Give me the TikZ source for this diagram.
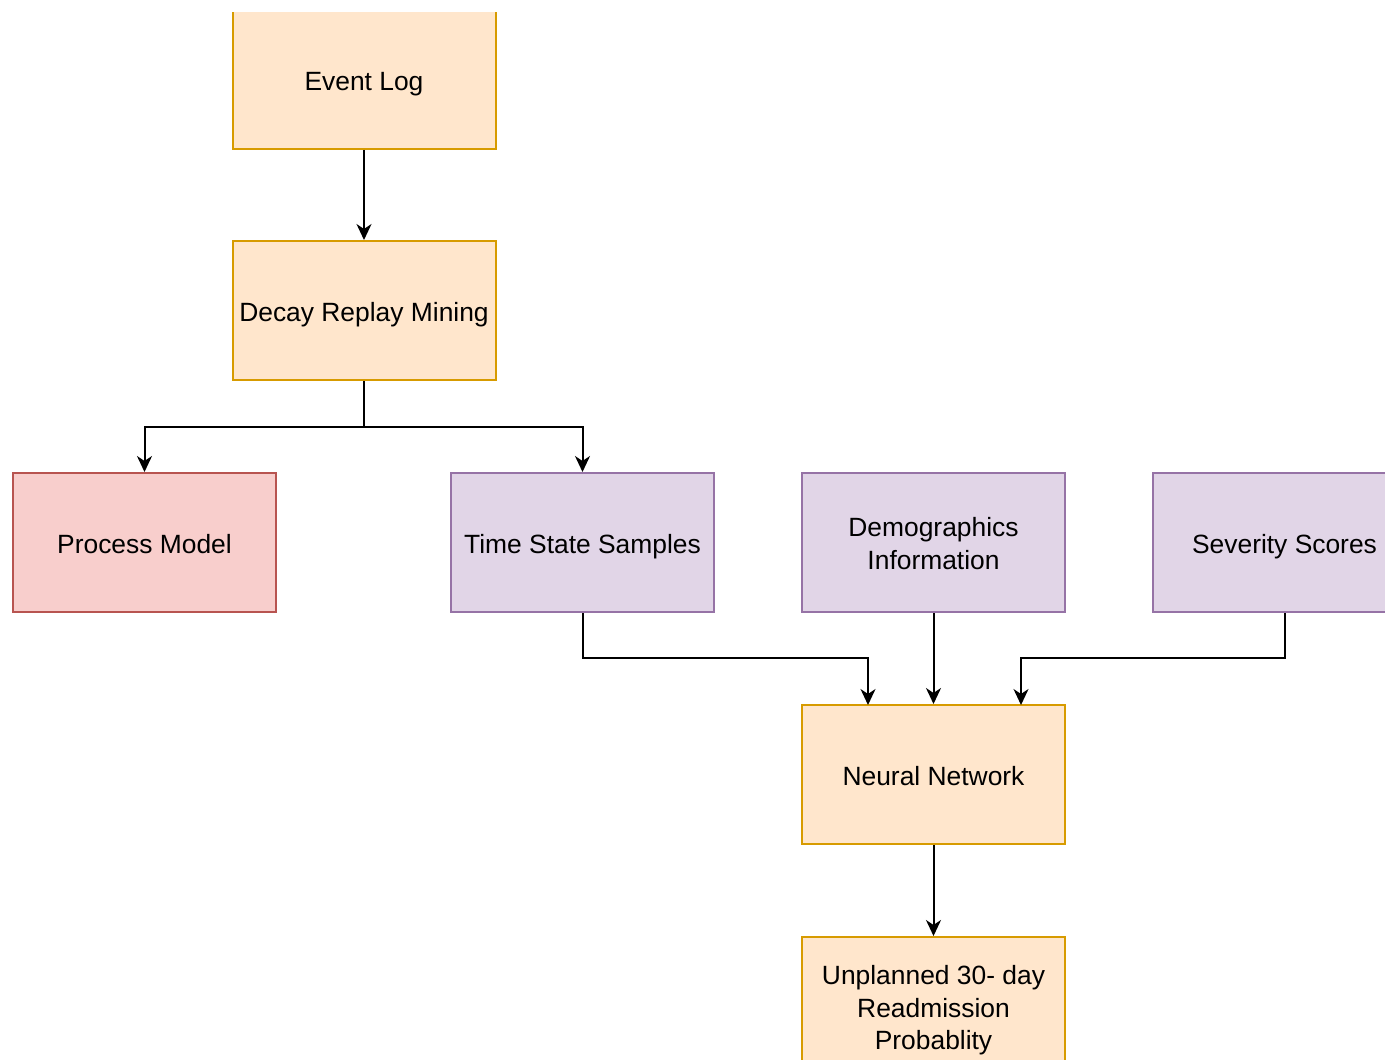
\documentclass[tikz,border=0pt]{standalone}
\usepackage{fontspec}
\setmainfont{Liberation Sans}
\usetikzlibrary{arrows.meta}
\definecolor{orfill}{HTML}{FFE6CC}
\definecolor{ordraw}{HTML}{D79B00}
\definecolor{rdfill}{HTML}{F8CECC}
\definecolor{rddraw}{HTML}{B85450}
\definecolor{pufill}{HTML}{E1D5E7}
\definecolor{pudraw}{HTML}{9673A6}
\newcommand{\tstrut}{\rule{0pt}{13.6pt}}
\tikzset{
  box/.style={rectangle, minimum width=131.5pt, minimum height=69.5pt, line width=1pt, align=center, inner sep=0pt,
    font=\fontsize{13.2}{16.2}\selectfont,
    execute at begin node={\tstrut},
    execute at end node={\rule[-3pt]{0pt}{3pt}}},
  orbox/.style={box, fill=orfill, draw=ordraw},
  rdbox/.style={box, fill=rdfill, draw=rddraw},
  pubox/.style={box, fill=pufill, draw=pudraw},
  conn/.style={line width=1pt, -{Stealth[length=8pt, width=7.5pt, inset=2.5pt]}},
}
\begin{document}
\begin{tikzpicture}[x=0.5pt, y=-0.5pt]
\useasboundingbox (0,0) rectangle (1385,1059);
\clip (0,0) rectangle (1385,1059);
% Event Log (top edge cut off)
\begin{scope}
\clip (0,13) rectangle (1385,1059);
\node[orbox] (ev) at (364,79.5) {Event Log};
\end{scope}
\node[orbox] (drm) at (364,310.5) {Decay Replay Mining};
\node[rdbox] (pm) at (144.5,542.5) {Process Model};
\node[pubox] (ts) at (582.5,542.5) {Time State Samples};
\node[pubox] (demo) at (933.5,542.5) {\tstrut Demographics\\Information};
\node[pubox] (sev) at (1284.5,542.5) {Severity Scores};
\node[orbox] (nn) at (933.5,774.5) {Neural Network};
\node[orbox] (out) at (933.5,1006.5) {\tstrut Unplanned 30- day\\Readmission\\Probablity};
\coordinate (split) at (364,427);
\draw[conn] (ev.south) -- (drm.north);
\draw[conn] (drm.south) -- (split) -| (pm.north);
\draw[conn] (split) -| (ts.north);
\draw[conn] (ts.south) |- (868,658) -- (868,705);
\draw[conn] (demo.south) -- (nn.north);
\draw[conn] (sev.south) |- (1021,658) -- (1021,705);
\draw[conn] (nn.south) -- (out.north);
\end{tikzpicture}
\end{document}
